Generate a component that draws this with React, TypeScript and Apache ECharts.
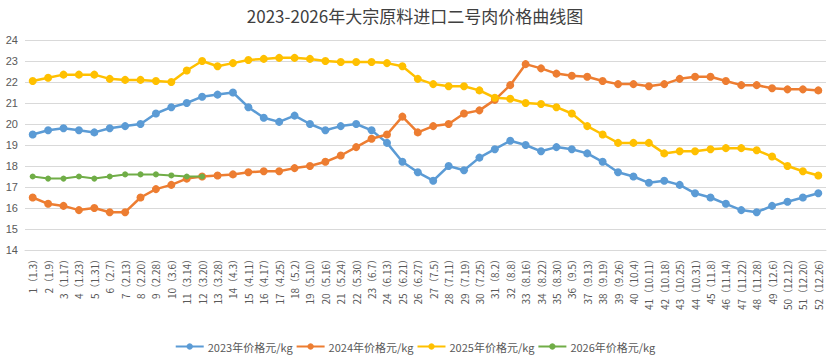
import React, { useEffect, useRef } from "react";
import * as echarts from "echarts";

const categories = [
  "1（1.3）", "2（1.9）", "3（1.17）", "4（1.23）", "5（1.31）", "6（2.7）", "7（2.13）", "8（2.20）",
  "9（2.28）", "10（3.6）", "11（3.14）", "12（3.20）", "13（3.28）", "14（4.3）", "15（4.11）", "16（4.17）",
  "17（4.25）", "18（5.2）", "19（5.10）", "20（5.16）", "21（5.24）", "22（5.30）", "23（6.7）", "24（6.13）",
  "25（6.21）", "26（6.27）", "27（7.5）", "28（7.11）", "29（7.19）", "30（7.25）", "31（8.2）", "32（8.8）",
  "33（8.16）", "34（8.22）", "35（8.30）", "36（9.5）", "37（9.13）", "38（9.19）", "39（9.26）", "40（10.4）",
  "41（10.11）", "42（10.18）", "43（10.25）", "44（10.31）", "45（11.8）", "46（11.14）", "47（11.22）", "48（11.28）",
  "49（12.6）", "50（12.12）", "51（12.20）", "52（12.26）",
];

const price2023 = [
  19.5, 19.7, 19.8, 19.7, 19.6, 19.8, 19.9, 20.0, 20.5, 20.8, 21.0, 21.3, 21.4, 21.5, 20.8, 20.3,
  20.1, 20.4, 20.0, 19.7, 19.9, 20.0, 19.7, 19.1, 18.2, 17.7, 17.3, 18.0, 17.8, 18.4, 18.8, 19.2,
  19.0, 18.7, 18.9, 18.8, 18.6, 18.2, 17.7, 17.5, 17.2, 17.3, 17.1, 16.7, 16.5, 16.2, 15.9, 15.8,
  16.1, 16.3, 16.5, 16.7,
];

const price2024 = [
  16.5, 16.2, 16.1, 15.9, 16.0, 15.8, 15.8, 16.5, 16.9, 17.1, 17.4, 17.5, 17.55, 17.6, 17.7, 17.75,
  17.75, 17.9, 18.0, 18.2, 18.5, 18.9, 19.3, 19.5, 20.35, 19.6, 19.9, 20.0, 20.5, 20.65, 21.15, 21.85,
  22.85, 22.65, 22.4, 22.3, 22.25, 22.05, 21.9, 21.9, 21.8, 21.9, 22.15, 22.25, 22.25, 22.05, 21.85, 21.85,
  21.7, 21.65, 21.65, 21.6,
];

const price2025 = [
  22.05, 22.2, 22.35, 22.35, 22.35, 22.15, 22.1, 22.1, 22.05, 22.0, 22.55, 23.0, 22.75, 22.9, 23.05, 23.1,
  23.15, 23.15, 23.1, 23.0, 22.95, 22.95, 22.95, 22.9, 22.75, 22.15, 21.9, 21.8, 21.8, 21.6, 21.25, 21.2,
  21.0, 20.95, 20.8, 20.5, 19.9, 19.5, 19.1, 19.1, 19.1, 18.6, 18.7, 18.7, 18.8, 18.85, 18.85, 18.75,
  18.45, 18.0, 17.75, 17.55,
];

const price2026 = [17.5, 17.4, 17.4, 17.5, 17.4, 17.5, 17.6, 17.6, 17.6, 17.55, 17.5, 17.5];

const seriesNames = ["2023年价格元/kg", "2024年价格元/kg", "2025年价格元/kg", "2026年价格元/kg"];
const colors = ["#5B9BD5", "#ED7D31", "#FFC000", "#70AD47"];

export default function App() {
  const ref = useRef<HTMLDivElement>(null);
  useEffect(() => {
    document.body.style.margin = "0";
    if (!ref.current) return;
    const chart = echarts.init(ref.current, undefined, { renderer: "svg" });
    const data = [price2023, price2024, price2025, price2026];
    chart.setOption({
      animation: false,
      color: colors,
      title: {
        text: "2023-2026年大宗原料进口二号肉价格曲线图",
        left: "center",
        top: 2,
        textStyle: { fontSize: 17, fontWeight: "normal", color: "#404040", fontFamily: "Noto Sans CJK SC" },
      },
      legend: {
        top: 336,
        left: "center",
        itemWidth: 28,
        itemHeight: 8,
        itemGap: 3,
        textStyle: { fontSize: 11, color: "#595959", fontFamily: "Noto Sans CJK SC", padding: [0, 0, 0, -1] },
        data: seriesNames,
      },
      grid: { left: 25, right: 4, top: 40, bottom: 107, containLabel: false },
      xAxis: {
        type: "category",
        data: categories,
        boundaryGap: true,
        axisLine: { show: true, lineStyle: { color: "#d9d9d9" } },
        axisTick: { show: false },
        axisLabel: {
          rotate: 90,
          interval: 0,
          fontSize: 10,
          color: "#595959",
          margin: 4,
          fontFamily: "Noto Sans CJK SC",
        },
      },
      yAxis: {
        type: "value",
        min: 14,
        max: 24,
        interval: 1,
        axisLine: { show: false },
        axisTick: { show: false },
        splitLine: { lineStyle: { color: "#d9d9d9" } },
        axisLabel: { fontSize: 11, color: "#595959", margin: 7 },
      },
      series: data.map((d, i) => ({
        name: seriesNames[i],
        type: "line",
        data: d,
        symbol: "circle",
        symbolSize: i === 3 ? 6 : 8,
        lineStyle: { width: i === 3 ? 2 : 2.5, color: colors[i] },
        itemStyle: { color: colors[i] },
        z: i === 3 ? 5 : 2,
      })),
    });
    return () => chart.dispose();
  }, []);
  return <div ref={ref} style={{ width: 830, height: 357 }} />;
}
